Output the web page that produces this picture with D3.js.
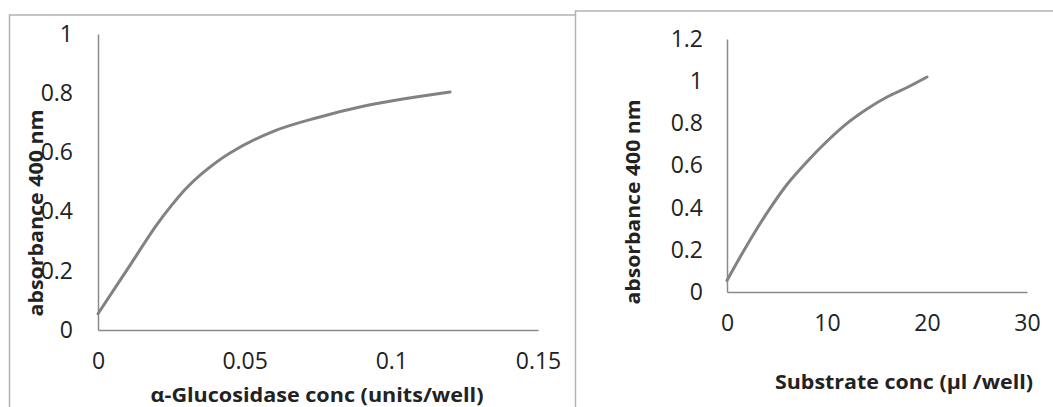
<!DOCTYPE html>
<html>
<head>
<meta charset="utf-8">
<style>
  body { margin: 0; background: #fff; }
  svg { display: block; }
  text { font-family: "Open Sans", sans-serif; fill: #222; }
  .tick text { font-size: 23px; }
  .title { font-weight: bold; font-size: 20px; }
</style>
</head>
<body>
<script src="https://cdn.jsdelivr.net/npm/d3@7/dist/d3.min.js"></script>
<script>
// left panel: enzyme concentration
var enzConc = [0, 0.01, 0.02, 0.025, 0.03, 0.035, 0.045, 0.06, 0.075, 0.09, 0.105, 0.12];
var enzAbs  = [0.055, 0.205, 0.355, 0.42, 0.478, 0.525, 0.598, 0.672, 0.718, 0.755, 0.782, 0.804];
var enzXTicks = [0, 0.05, 0.1, 0.15];
var enzYTicks = [0, 0.2, 0.4, 0.6, 0.8, 1];

// right panel: substrate concentration
var subConc = [0, 2, 4, 6, 8, 10, 12, 14, 16, 18, 20];
var subAbs  = [0.055, 0.222, 0.375, 0.51, 0.618, 0.715, 0.8, 0.868, 0.925, 0.97, 1.02];
var subXTicks = [0, 10, 20, 30];
var subYTicks = [0, 0.2, 0.4, 0.6, 0.8, 1, 1.2];

var W = 1053, H = 407;
var svg = d3.select("body").append("svg").attr("width", W).attr("height", H);

// chart frames
svg.append("path")
  .attr("d", "M9.5,410 V15 H575")
  .attr("fill", "none").attr("stroke", "#b3b3b3").attr("stroke-width", 1.5);
svg.append("path")
  .attr("d", "M575.5,410 V11 H1053")
  .attr("fill", "none").attr("stroke", "#b3b3b3").attr("stroke-width", 1.5);

var fmt = d3.format("~g");

function panel(o) {
  var x = d3.scaleLinear().domain(o.xDom).range(o.xRange);
  var y = d3.scaleLinear().domain(o.yDom).range(o.yRange);

  var gx = svg.append("g")
    .attr("transform", "translate(0," + y(0) + ")")
    .call(d3.axisBottom(x).tickValues(o.xTicks).tickFormat(fmt).tickSize(0).tickSizeOuter(0).tickPadding(23));
  var gy = svg.append("g")
    .attr("transform", "translate(" + x(0) + ",0)")
    .call(d3.axisLeft(y).tickValues(o.yTicks).tickFormat(fmt).tickSize(0).tickSizeOuter(0).tickPadding(o.yPad));
  [gx, gy].forEach(function(g) {
    g.select(".domain").attr("stroke", "#8a8a8a").attr("stroke-width", 1.5);
    g.selectAll(".tick text").attr("font-family", null).attr("font-size", null).attr("fill", "#222");
  });
  gx.selectAll(".tick text").attr("dy", "0.71em");

  var pts = o.xs.map(function(d, i) { return [d, o.ys[i]]; });
  svg.append("path")
    .datum(pts)
    .attr("fill", "none")
    .attr("stroke", "#828282")
    .attr("stroke-width", 3)
    .attr("stroke-linecap", "round")
    .attr("d", d3.line()
      .x(function(d) { return x(d[0]); })
      .y(function(d) { return y(d[1]); })
      .curve(d3.curveCatmullRom.alpha(0.5)));

  svg.append("text").attr("class", "title")
    .attr("x", o.xt[0]).attr("y", o.xt[1])
    .attr("text-anchor", "middle")
    .attr("textLength", o.xt[2]).attr("lengthAdjust", "spacingAndGlyphs")
    .text(o.xTitle);
  svg.append("text").attr("class", "title")
    .attr("transform", "translate(" + o.yt[0] + "," + o.yt[1] + ") rotate(-90)")
    .attr("text-anchor", "middle")
    .attr("dy", "0.35em")
    .attr("textLength", o.yt[2]).attr("lengthAdjust", "spacingAndGlyphs")
    .text(o.yTitle);
}

panel({
  xDom: [0, 0.15], xRange: [98, 538],
  yDom: [0, 1], yRange: [330, 34],
  xTicks: enzXTicks, yTicks: enzYTicks, yPad: 25,
  xs: enzConc, ys: enzAbs,
  xTitle: "α-Glucosidase conc (units/well)", xt: [317, 402, 333],
  yTitle: "absorbance 400 nm", yt: [36, 213, 207]
});

panel({
  xDom: [0, 30], xRange: [727, 1027],
  yDom: [0, 1.2], yRange: [292, 39],
  xTicks: subXTicks, yTicks: subYTicks, yPad: 24,
  xs: subConc, ys: subAbs,
  xTitle: "Substrate conc (µl /well)", xt: [904, 389, 258],
  yTitle: "absorbance 400 nm", yt: [633, 202, 205]
});
</script>
</body>
</html>
